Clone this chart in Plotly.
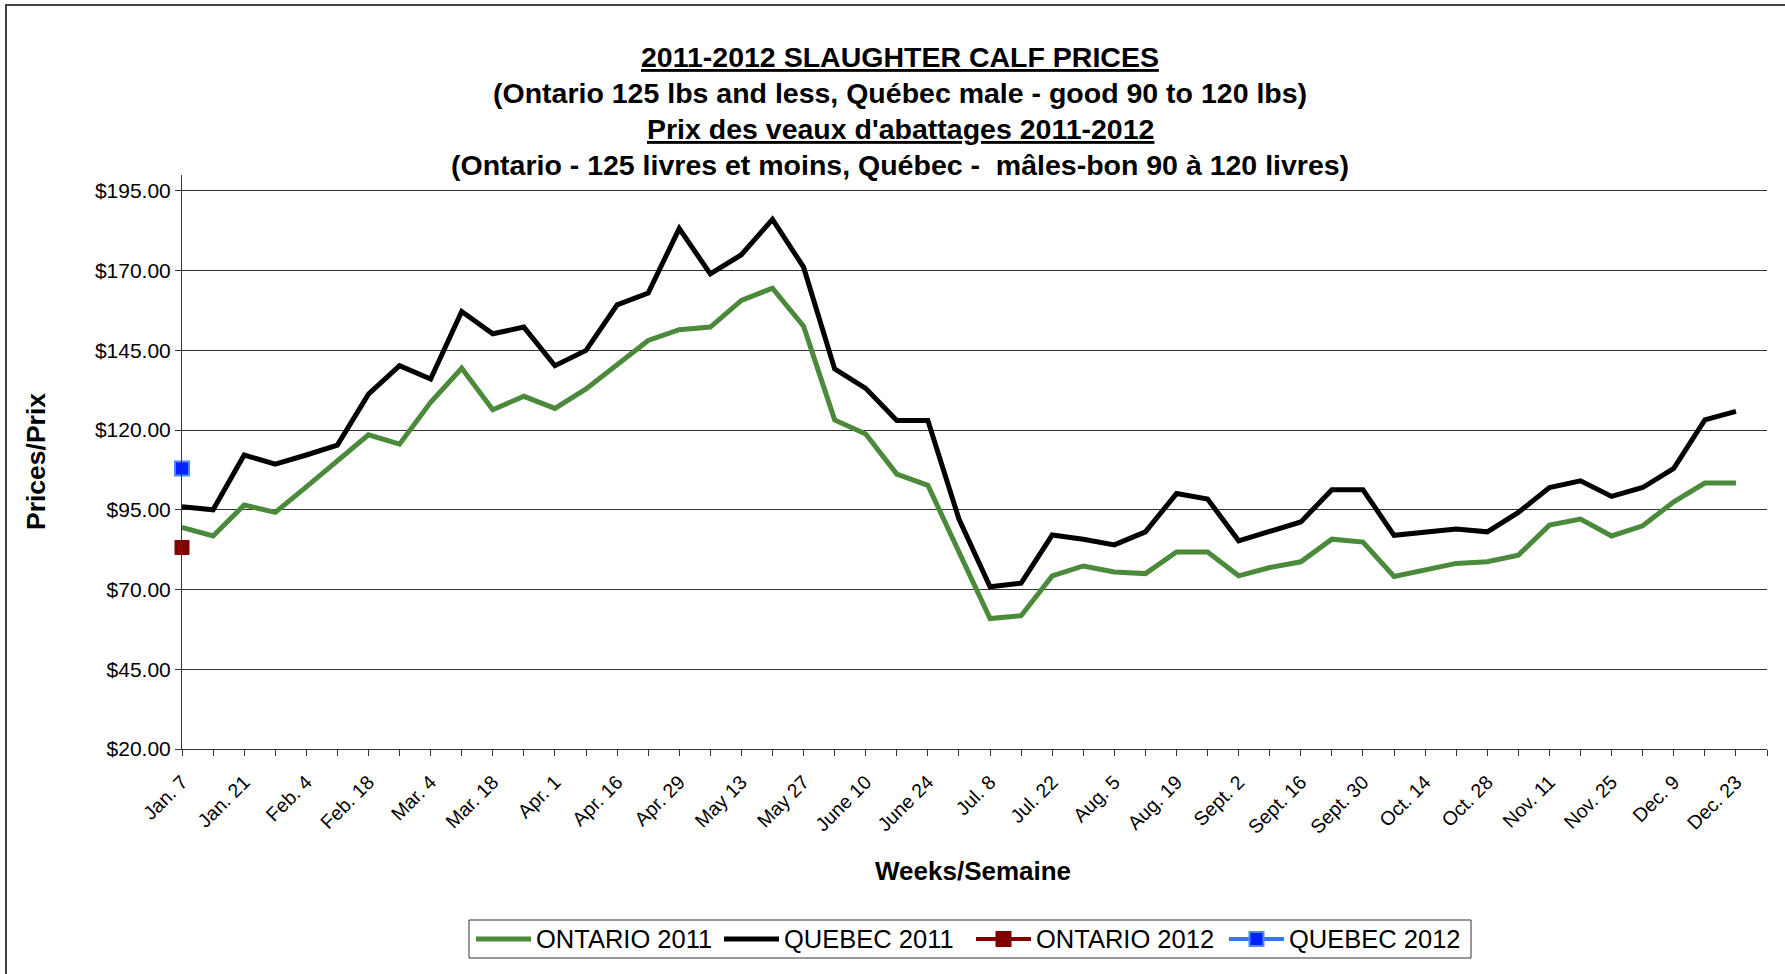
import plotly.graph_objects as go

# ---------------- data ----------------
weeks = [
    "Jan. 7", "Jan. 14", "Jan. 21", "Jan. 28", "Feb. 4", "Feb. 11", "Feb. 18", "Feb. 25",
    "Mar. 4", "Mar. 11", "Mar. 18", "Mar. 25", "Apr. 1", "Apr. 8", "Apr. 16", "Apr. 22",
    "Apr. 29", "May 6", "May 13", "May 20", "May 27", "June 3", "June 10", "June 17",
    "June 24", "Jul. 1", "Jul. 8", "Jul. 15", "Jul. 22", "Jul. 29", "Aug. 5", "Aug. 12",
    "Aug. 19", "Aug. 26", "Sept. 2", "Sept. 9", "Sept. 16", "Sept. 23", "Sept. 30", "Oct. 7",
    "Oct. 14", "Oct. 21", "Oct. 28", "Nov. 4", "Nov. 11", "Nov. 18", "Nov. 25", "Dec. 2",
    "Dec. 9", "Dec. 16", "Dec. 23", "Dec. 30",
]
# labels shown on the axis (every second week)
shown_labels = [
    "Jan. 7", "Jan. 21", "Feb. 4", "Feb. 18", "Mar. 4", "Mar. 18", "Apr. 1", "Apr. 16",
    "Apr. 29", "May 13", "May 27", "June 10", "June 24", "Jul. 8", "Jul. 22", "Aug. 5",
    "Aug. 19", "Sept. 2", "Sept. 16", "Sept. 30", "Oct. 14", "Oct. 28", "Nov. 11", "Nov. 25",
    "Dec. 9", "Dec. 23",
]

ontario_2011 = [
    89.5, 86.8, 96.5, 94.2, 102.2, 110.4, 118.5, 115.6, 128.7, 139.4, 126.4, 130.6, 126.8,
    132.9, 140.5, 148.1, 151.5, 152.3, 160.7, 164.5, 152.6, 123.2, 118.8, 106.2, 102.7, 81.8,
    60.9, 61.8, 74.3, 77.4, 75.5, 75.0, 81.8, 81.8, 74.3, 76.9, 78.7, 85.8, 84.9, 74.1, 76.2,
    78.2, 78.7, 80.8, 90.2, 92.1, 86.8, 90.0, 97.5, 103.4, 103.4, None,
]
quebec_2011 = [
    96.0, 95.0, 112.2, 109.3, 112.2, 115.3, 131.3, 140.2, 136.0, 157.2, 150.2, 152.3, 140.2,
    145.0, 159.3, 163.0, 183.2, 169.0, 175.0, 186.1, 171.1, 139.2, 133.1, 123.0, 123.0, 92.1,
    70.9, 72.0, 87.1, 85.8, 84.0, 88.1, 100.1, 98.4, 85.3, 88.4, 91.2, 101.3, 101.3, 87.0,
    88.1, 89.0, 88.1, 94.2, 102.0, 104.1, 99.2, 102.0, 108.0, 123.2, 125.9, None,
]
weeks_2012 = ["Jan. 7"]
ontario_2012 = [83.2]
quebec_2012 = [108.0]

series_names = ["ONTARIO 2011", "QUEBEC 2011", "ONTARIO 2012", "QUEBEC 2012"]

y_ticks = [20, 45, 70, 95, 120, 145, 170, 195]

title_lines = [
    "2011-2012 SLAUGHTER CALF PRICES",
    "(Ontario 125 lbs and less, Québec male - good 90 to 120 lbs)",
    "Prix des veaux d'abattages 2011-2012",
    "(Ontario - 125 livres et moins, Québec -  mâles-bon 90 à 120 livres)",
]
underlined = [True, False, True, False]

# ---------------- styles ----------------
FONT = "Liberation Sans, Arial, sans-serif"
line_colors = ["#4A8A3A", "#000000", "#800000", "#3377FF"]
marker_fill = [None, None, "#800000", "#0022FF"]
marker_edge = [None, None, "#800000", "#4D88FF"]

W, H = 1785, 974
PL, PR, PT, PB = 182, 1767, 175, 749  # plot area edges in page pixels
L, R, T, B = PL, W - PR, PT, H - PB
PW, PH = W - L - R, H - T - B


def px_x(x):
    return (x - L) / PW


def px_y(y):
    return (H - B - y) / PH


fig = go.Figure()
fig.add_trace(go.Scatter(x=weeks, y=ontario_2011, mode="lines", name=series_names[0],
                         line=dict(color=line_colors[0], width=5)))
fig.add_trace(go.Scatter(x=weeks, y=quebec_2011, mode="lines", name=series_names[1],
                         line=dict(color=line_colors[1], width=5)))
fig.add_trace(go.Scatter(x=weeks_2012, y=ontario_2012, mode="lines+markers", name=series_names[2],
                         cliponaxis=False, line=dict(color=line_colors[2], width=4),
                         marker=dict(symbol="square", size=14, color=marker_fill[2],
                                     line=dict(color=marker_edge[2], width=1))))
fig.add_trace(go.Scatter(x=weeks_2012, y=quebec_2012, mode="lines+markers", name=series_names[3],
                         cliponaxis=False, line=dict(color=line_colors[3], width=4),
                         marker=dict(symbol="square", size=14, color=marker_fill[3],
                                     line=dict(color=marker_edge[3], width=2))))

ticktext = [w if w in shown_labels else "" for w in weeks]

fig.update_xaxes(
    type="category", categoryorder="array", categoryarray=weeks,
    range=[0, len(weeks) - 1], tickvals=weeks, ticktext=ticktext, tickangle=-45,
    ticks="outside", ticklen=6, tickcolor="#333", showgrid=False, ticklabelstandoff=7,
    showline=True, linecolor="#333", linewidth=1, automargin=False,
    tickfont=dict(family=FONT, size=19.5, color="#000"),
)
fig.update_yaxes(
    range=[20, 200], tickvals=y_ticks, tickformat="$.2f",
    ticks="outside", ticklen=6, tickcolor="#333",
    showgrid=True, gridcolor="#333", gridwidth=1,
    showline=True, linecolor="#333", linewidth=1, automargin=False, zeroline=False,
    tickfont=dict(family=FONT, size=21, color="#000"),
)

annotations = []
shapes = []
title_y_px = [57, 93, 129, 165]
for text, ul, ypx in zip(title_lines, underlined, title_y_px):
    t = f"<b>{text}</b>"
    if ul:
        t = f"<span style='text-decoration:underline'><b>{text}</b></span>"
    annotations.append(dict(text=t, xref="paper", yref="paper", x=px_x(900), y=px_y(ypx),
                            xanchor="center", yanchor="middle", showarrow=False,
                            font=dict(family=FONT, size=28.5, color="#000")))
annotations.append(dict(text="<b>Prices/Prix</b>", xref="paper", yref="paper",
                        x=px_x(36), y=px_y(462), textangle=-90, xanchor="center",
                        yanchor="middle", showarrow=False,
                        font=dict(family=FONT, size=26.5, color="#000")))
annotations.append(dict(text="<b>Weeks/Semaine</b>", xref="paper", yref="paper",
                        x=px_x(973), y=px_y(871), xanchor="center", yanchor="middle",
                        showarrow=False, font=dict(family=FONT, size=26, color="#000")))

# chart-area border
shapes.append(dict(type="rect", xref="paper", yref="paper",
                   x0=px_x(6), x1=px_x(1820), y0=px_y(1010), y1=px_y(5),
                   line=dict(color="#404040", width=2), fillcolor="rgba(0,0,0,0)", layer="above"))

# legend drawn by hand (long Excel-style line keys)
leg_y = 939
shapes.append(dict(type="rect", xref="paper", yref="paper",
                   x0=px_x(469), x1=px_x(1471), y0=px_y(958), y1=px_y(920),
                   line=dict(color="#333", width=1), fillcolor="white", layer="above"))
key_x0 = [476, 724, 976, 1229]
key_len = 55
for i, name in enumerate(series_names):
    x0 = key_x0[i]
    shapes.append(dict(type="line", xref="paper", yref="paper",
                       x0=px_x(x0), x1=px_x(x0 + key_len), y0=px_y(leg_y), y1=px_y(leg_y),
                       line=dict(color=line_colors[i], width=5 if i < 2 else 4), layer="above"))
    if marker_fill[i]:
        cx = x0 + key_len / 2
        shapes.append(dict(type="rect", xref="paper", yref="paper",
                           x0=px_x(cx - 7), x1=px_x(cx + 7), y0=px_y(leg_y + 7), y1=px_y(leg_y - 7),
                           line=dict(color=marker_edge[i], width=2), fillcolor=marker_fill[i],
                           layer="above"))
    annotations.append(dict(text=name, xref="paper", yref="paper",
                            x=px_x(x0 + key_len + 3), y=px_y(leg_y), xanchor="left",
                            yanchor="middle", showarrow=False,
                            font=dict(family=FONT, size=25.5, color="#000")))

fig.update_layout(
    width=W, height=H,
    margin=dict(l=L, r=R, t=T, b=B, autoexpand=False),
    paper_bgcolor="white", plot_bgcolor="white",
    font=dict(family=FONT, color="#000"),
    annotations=annotations,
    shapes=shapes,
    showlegend=False,
)

fig.write_html("out.html",
               config={"displayModeBar": False},
               post_script="document.body.style.margin='0px';document.body.style.overflow='hidden';")
